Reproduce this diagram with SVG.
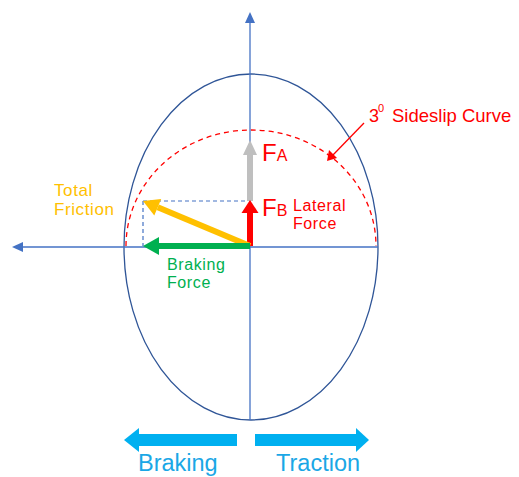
<svg xmlns="http://www.w3.org/2000/svg" width="519" height="477" viewBox="0 0 519 477">
<style>
text{font-family:"Liberation Sans",Arial,sans-serif}
.ax{stroke:#4472C4;stroke-width:1.3;fill:none}
.dash{stroke:#4472C4;stroke-width:1.2;stroke-dasharray:4 3;fill:none}
.red{fill:#FF0000}
.gray{fill:#BFBFBF}
.grn{fill:#00B050}
.yel{fill:#FFC000}
.cyan{fill:#00B0F0}
.lbl{font-size:16px;letter-spacing:0.6px}
</style>
<rect width="519" height="477" fill="#FFFFFF"/>
<g id="friction-ellipse">
<ellipse cx="251" cy="247" rx="127" ry="173" fill="none" stroke="#2F5597" stroke-width="1.3"/>
</g>
<g id="sideslip-curve">
<path d="M126,246 A125,116 0 0 1 376,246" fill="none" stroke="#FF0000" stroke-width="1.3" stroke-dasharray="5 4"/>
</g>
<g id="connectors">
<line class="ax" x1="250" y1="22" x2="250" y2="420"/>
<polygon points="250,12 245,23 255,23" fill="#4472C4"/>
<line class="ax" x1="22" y1="247" x2="378" y2="247"/>
<polygon points="12,247 23,242 23,252" fill="#4472C4"/>
<path class="dash" d="M143,201 H247 M143,201 V246"/>
<line x1="364" y1="123" x2="332" y2="156" stroke="#FF0000" stroke-width="1.3"/>
<polygon points="327,161 329,150 337,158" fill="#FF0000"/>
</g>
<g id="force-FA">
<rect class="gray" x="247" y="154" width="6" height="47"/>
<polygon class="gray" points="250,140 243,155 257,155"/>
</g>
<g id="force-FB">
<rect class="red" x="247" y="212" width="6" height="34"/>
<polygon class="red" points="250,200 241.5,213 258.5,213"/>
</g>
<g id="total-friction">
<line x1="250" y1="246" x2="157.75" y2="207.2" stroke="#FFC000" stroke-width="6"/>
<polygon class="yel" points="143,201 161.2,198.9 154.3,215.5"/>
</g>
<g id="braking-force">
<rect class="grn" x="158" y="243" width="92" height="6"/>
<polygon class="grn" points="143,246 159,237 159,255"/>
</g>
<g id="labels">
<text x="262" y="161" font-size="24" fill="#FF0000">F<tspan font-size="16">A</tspan></text>
<text x="262" y="216" font-size="24" fill="#FF0000">F<tspan font-size="16">B</tspan></text>
<text class="lbl" x="293" y="211" fill="#FF0000">Lateral</text>
<text class="lbl" x="293" y="229" fill="#FF0000">Force</text>
<text x="369" y="122" font-size="18" fill="#FF0000">3</text>
<text x="378" y="112" font-size="11" fill="#FF0000">0</text>
<text x="392" y="122" font-size="18.5" fill="#FF0000">Sideslip Curve</text>
<text class="lbl" x="54" y="196" fill="#FFC000" style="font-size:17px">Total</text>
<text class="lbl" x="54" y="215" fill="#FFC000" style="font-size:17px">Friction</text>
<text class="lbl" x="167" y="270" fill="#00B050">Braking</text>
<text class="lbl" x="167" y="288" fill="#00B050">Force</text>
</g>
<g id="braking-direction">
<rect class="cyan" x="137" y="434" width="100" height="12"/>
<polygon class="cyan" points="124,440 139,428 139,452"/>
<text x="138" y="471" font-size="23.5" fill="#1AA7E6">Braking</text>
</g>
<g id="traction-direction">
<rect class="cyan" x="255" y="434" width="104" height="12"/>
<polygon class="cyan" points="369,440 356,428 356,452"/>
<text x="276" y="471" font-size="23.5" fill="#1AA7E6">Traction</text>
</g>
</svg>
